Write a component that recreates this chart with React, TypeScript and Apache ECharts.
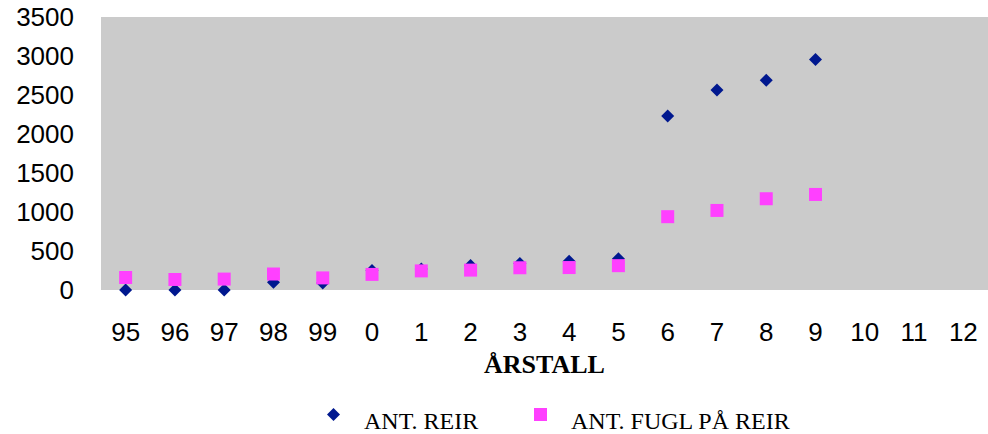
import React, { useEffect, useRef } from "react";
import * as echarts from "echarts";

const years = ["95", "96", "97", "98", "99", "0", "1", "2", "3", "4", "5", "6", "7", "8", "9", "10", "11", "12"];
const antReir = [0, 0, 0, 100, 90, 250, 270, 315, 340, 370, 400, 2230, 2565, 2690, 2955];
const antFugl = [160, 135, 140, 205, 155, 200, 245, 255, 285, 288, 312, 940, 1020, 1170, 1225];
const yTicks = { min: 0, max: 3500, interval: 500 };

export default function App() {
  const ref = useRef<HTMLDivElement>(null);
  useEffect(() => {
    if (!ref.current) return;
    const chart = echarts.init(ref.current, null, { renderer: "svg" });
    const legendText = {
      fontFamily: "Liberation Serif",
      fontSize: 24,
      color: "#000",
      padding: [0, 0, 0, 19],
      rich: {
        t: {
          fontFamily: "Liberation Serif",
          fontSize: 24,
          color: "#000",
          padding: [12, 0, 0, 0],
        },
      },
    };
    chart.setOption({
      animation: false,
      grid: {
        left: 101,
        top: 17,
        right: -2,
        bottom: 144,
        show: true,
        backgroundColor: "#cbcbcb",
        borderWidth: 0,
        containLabel: false,
      },
      legend: [
        {
          data: ["ANT. REIR"],
          left: 322,
          top: 403,
          itemWidth: 13,
          itemHeight: 13,
          formatter: "{t|{name}}",
          textStyle: legendText,
        },
        {
          data: ["ANT. FUGL PÅ REIR"],
          left: 529,
          top: 403,
          itemWidth: 13,
          itemHeight: 13,
          formatter: "{t|{name}}",
          textStyle: legendText,
        },
      ],
      xAxis: {
        type: "category",
        data: years,
        boundaryGap: true,
        axisLine: { show: false },
        axisTick: { show: false },
        splitLine: { show: false },
        axisLabel: {
          interval: 0,
          margin: 29,
          fontSize: 26,
          color: "#000",
          fontFamily: "Liberation Sans",
        },
        name: "ÅRSTALL",
        nameLocation: "middle",
        nameGap: 61,
        nameTextStyle: {
          fontFamily: "Liberation Serif",
          fontWeight: "bold",
          fontSize: 26,
          color: "#000",
        },
      },
      yAxis: {
        type: "value",
        min: yTicks.min,
        max: yTicks.max,
        interval: yTicks.interval,
        axisLine: { show: false },
        axisTick: { show: false },
        splitLine: { show: false },
        axisLabel: {
          margin: 27,
          fontSize: 26,
          color: "#000",
          fontFamily: "Liberation Sans",
          formatter: (v: number) => String(v),
        },
      },
      series: [
        {
          name: "ANT. REIR",
          type: "scatter",
          symbol: "diamond",
          symbolSize: 13,
          data: antReir,
          itemStyle: { color: "#00188f", opacity: 1 },
          z: 2,
        },
        {
          name: "ANT. FUGL PÅ REIR",
          type: "scatter",
          symbol: "rect",
          symbolSize: 13,
          data: antFugl,
          itemStyle: { color: "#ff40ff", opacity: 1 },
          z: 3,
        },
      ],
    });
    return () => chart.dispose();
  }, []);
  return (
    <div
      ref={ref}
      style={{ position: "absolute", left: 0, top: 0, width: 988, height: 434 }}
    />
  );
}
